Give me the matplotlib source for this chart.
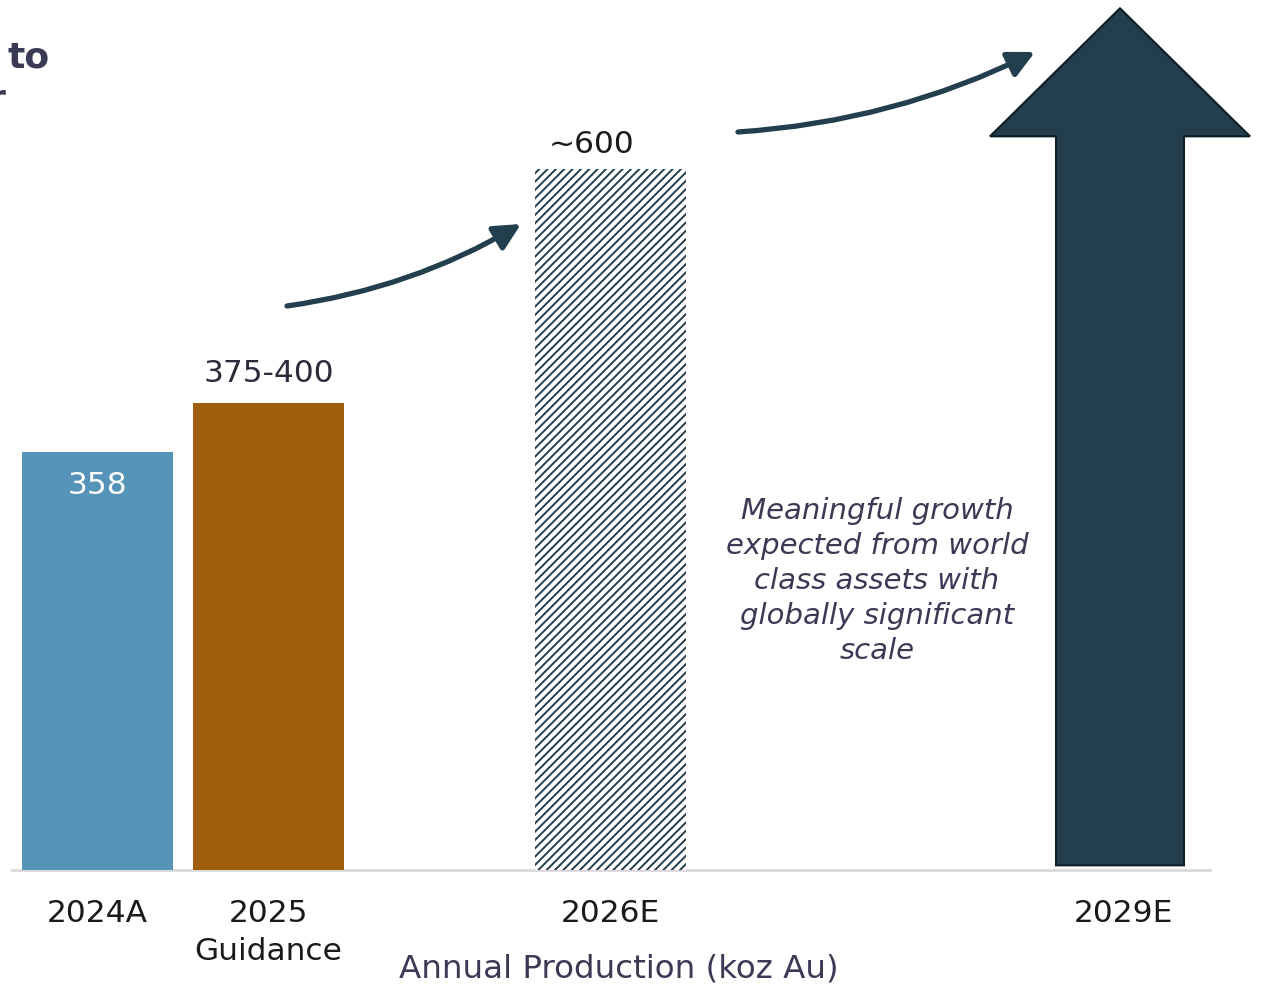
import matplotlib
matplotlib.use("Agg")
import matplotlib.pyplot as plt
from matplotlib.patches import Polygon, FancyArrowPatch

plt.rcParams['font.family'] = ['DejaVu Sans']
plt.rcParams['hatch.linewidth'] = 1.4

# ---- data ----
categories = ["2024A", "2025\nGuidance", "2026E", "2029E"]
values = [358, 400, 600]          # bars (2025 upper end of guidance)
value_labels = ["358", "375-400", "~600"]
arrow_value = 738                 # 2029E growth arrow tip
axis_title = "Annual Production (koz Au)"
note = "Meaningful growth\nexpected from world\nclass assets with\nglobally significant\nscale"

# ---- style ----
c_blue = "#5593b8"
c_brown = "#9e5e0c"
c_dark = "#233f4e"
c_text = "#3a3a55"

W, H = 1261, 988
fig = plt.figure(figsize=(W / 100, H / 100), dpi=100)
base_px = 870
px_per_unit = 1.1676
ax = fig.add_axes([0, (H - base_px) / H, 1, base_px / H])
x0_px, unit_px = 97.5, 171.0
ax.set_xlim((0 - x0_px) / unit_px, (W - x0_px) / unit_px)
ax.set_ylim(0, base_px / px_per_unit)
for s in ax.spines.values():
    s.set_visible(False)
ax.set_yticks([])

pos = [0, 1, 3, 6]
bw = 151 / unit_px

# bars
ax.bar(pos[0], values[0], width=bw, color=c_blue, zorder=2)
ax.bar(pos[1], values[1], width=bw, color=c_brown, zorder=2)
ax.bar(pos[2], values[2], width=bw, facecolor="white", edgecolor=c_dark,
       linewidth=0, hatch="////", zorder=2)

# 2029E big arrow
hw = 260 / unit_px / 2
sw = 128 / unit_px / 2
head_base = arrow_value - 128 / px_per_unit
cx = pos[3] - 3.5 / unit_px
pts = [(cx - sw, 4), (cx - sw, head_base), (cx - hw, head_base), (cx, arrow_value),
       (cx + hw, head_base), (cx + sw, head_base), (cx + sw, 4)]
ax.add_patch(Polygon(pts, closed=True, facecolor=c_dark, edgecolor="#0e1d26",
                     linewidth=1.5, zorder=3))

# baseline
ax.plot([(12 - x0_px) / unit_px, (1210 - x0_px) / unit_px], [0, 0],
        color="#d9d9de", lw=2, zorder=1, clip_on=False)

# value labels
ax.annotate(value_labels[0], (pos[0], values[0]), xytext=(0, -24),
            textcoords="offset points", ha="center", va="center",
            color="white", fontsize=22.5, zorder=4)
ax.annotate(value_labels[1], (pos[1], values[1]), xytext=(0, 15),
            textcoords="offset points", ha="center", va="baseline",
            color="#2b2b3a", fontsize=22.5)
ax.annotate(value_labels[2], (pos[2] - 19 / unit_px, values[2]), xytext=(0, 12),
            textcoords="offset points", ha="center", va="baseline",
            color="#1a1a1a", fontsize=22.5)

# ticks
ax.set_xticks(pos)
ax.set_xticklabels(categories, fontsize=22.5, color="#1a1a1a", linespacing=1.38)
ax.tick_params(axis="x", length=0, pad=21)

# curved arrows
def px2d(x, y):
    return ((x - x0_px) / unit_px, (base_px - y) / px_per_unit)

for (a, b) in [((287, 306), (521, 224)), ((738, 132), (1035, 52))]:
    arr = FancyArrowPatch(px2d(*a), px2d(*b), connectionstyle="arc3,rad=0.1",
                          arrowstyle="-|>,head_length=0.8,head_width=0.4",
                          mutation_scale=20, color=c_dark, lw=3.8,
                          shrinkA=0, shrinkB=0, clip_on=False, zorder=5)
    ax.add_patch(arr)

# note text
fig.text(877 / W, 1 - 581 / H, note, ha="center", va="center", style="italic",
         fontsize=21, color=c_text, linespacing=1.32)

# axis title
fig.text(618.5 / W, 1 - 969 / H, axis_title, ha="center", va="center",
         fontsize=23.4, color=c_text)

# title fragment at top-left
fig.text(8 / W, 1 - 57 / H, "to", ha="left", va="center",
         fontsize=26, fontweight="bold", color=c_text)
fig.text(6 / W, 1 - 100 / H, "r", ha="right", va="center",
         fontsize=26, fontweight="bold", color=c_text)

fig.savefig("out.png", dpi=100)
